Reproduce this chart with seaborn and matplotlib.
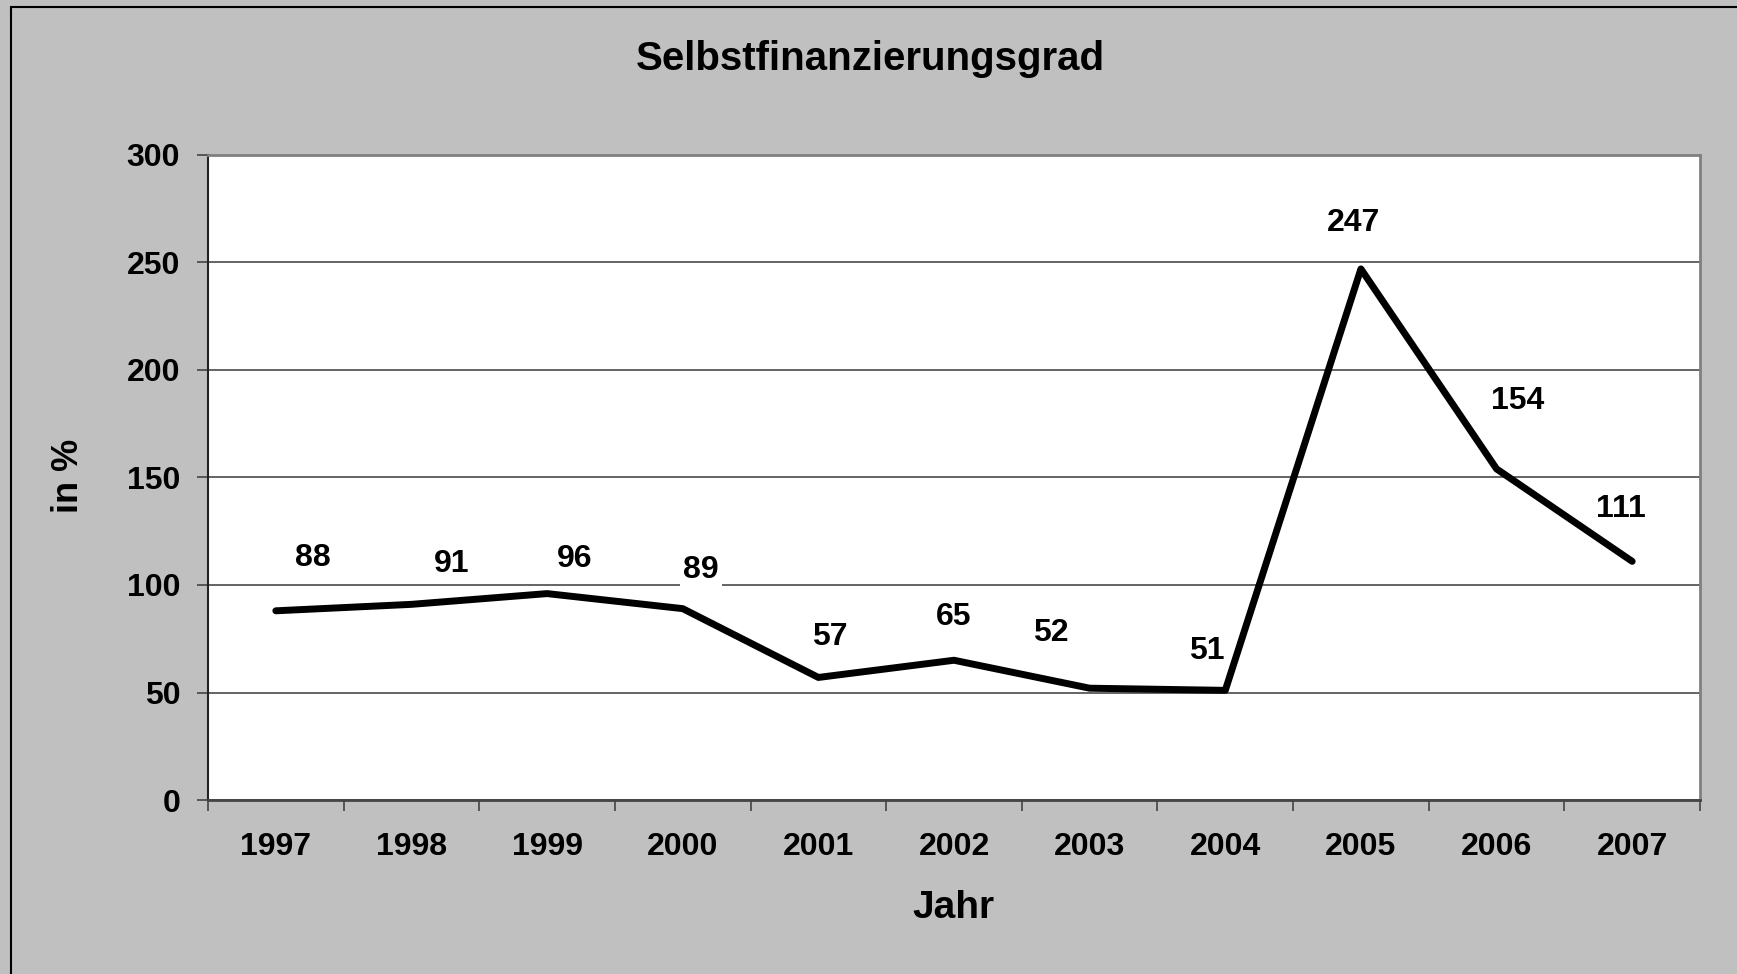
import matplotlib
matplotlib.use("Agg")
import matplotlib.pyplot as plt
import seaborn as sns
import pandas as pd
from matplotlib.patches import Rectangle
from matplotlib.ticker import FixedLocator, MultipleLocator

years = ["1997", "1998", "1999", "2000", "2001", "2002", "2003", "2004", "2005", "2006", "2007"]
values = [88, 91, 96, 89, 57, 65, 52, 51, 247, 154, 111]
label_offsets = [(27, 38), (29, 29), (20, 25), (13, 28), (8, 29), (0, 31),
                 (-28, 40), (-13, 28), (-5, 33), (15, 49), (-8, 38)]

df = pd.DataFrame({"Jahr": years, "Wert": values})

sns.set_theme(style="white")
plt.rcParams['font.family'] = ['Liberation Sans', 'DejaVu Sans']
plt.rcParams['font.weight'] = 'bold'
plt.rcParams['text.color'] = 'black'
plt.rcParams['xtick.color'] = 'black'
plt.rcParams['ytick.color'] = 'black'
plt.rcParams['axes.labelcolor'] = 'black'

fig = plt.figure(figsize=(17.37, 9.74), dpi=100)
fig.patch.set_facecolor("#C0C0C0")
fig.patches.append(Rectangle((11/1737, -0.1), 1.2, 1 - 7/974 + 0.1, transform=fig.transFigure,
                             fill=False, edgecolor="black", linewidth=1.5, zorder=0))

ax = fig.add_axes([208/1737, 1 - 800/974, 1492/1737, 645/974])
ax.set_facecolor("white")

sns.lineplot(data=df, x="Jahr", y="Wert", ax=ax, color="black", linewidth=5,
             solid_joinstyle="round", solid_capstyle="round", zorder=3)

ax.set_xlim(-0.5, len(years) - 0.5)
ax.set_ylim(0, 300)
ax.yaxis.set_major_locator(MultipleLocator(50))
ax.grid(axis="y", color="#4a4a4a", linewidth=1.2)
ax.set_axisbelow(True)

ax.set_xticks(range(len(years)))
ax.set_xticklabels(years)
ax.xaxis.set_minor_locator(FixedLocator([i - 0.5 for i in range(len(years) + 1)]))
ax.tick_params(axis="x", which="major", length=0, pad=23, labelsize=23, labelcolor="black")
ax.tick_params(axis="x", which="minor", length=8, width=1.2, color="#444444", bottom=True)
ax.tick_params(axis="y", which="major", length=8, width=1.2, color="#444444", left=True,
               pad=12, labelsize=23, labelcolor="black")
for lab in ax.get_xticklabels() + ax.get_yticklabels():
    lab.set_fontweight("bold")

for s in ["top", "right"]:
    ax.spines[s].set_color("#808080")
    ax.spines[s].set_linewidth(2)
ax.spines["left"].set_color("#222222")
ax.spines["left"].set_linewidth(1.5)
ax.spines["bottom"].set_color("#444444")
ax.spines["bottom"].set_linewidth(2)

for i, (v, off) in enumerate(zip(values, label_offsets)):
    ax.annotate(str(v), xy=(i, v), xytext=off, textcoords="offset points",
                ha="center", va="center", fontsize=23, fontweight="bold", color="black",
                bbox=dict(boxstyle="square,pad=0.1", facecolor="white", edgecolor="none"),
                zorder=4)

ax.set_xlabel("")
ax.set_ylabel("")
fig.text(0.5013, 0.939, "Selbstfinanzierungsgrad", ha="center", va="center",
         fontsize=29, fontweight="bold", color="black")
fig.text(0.549, 0.068, "Jahr", ha="center", va="center", fontsize=28, fontweight="bold",
         color="black")
fig.text(69/1737, 1 - 476/974, "in %", ha="center", va="center", rotation=90,
         fontsize=26, fontweight="bold", color="black")

fig.savefig("out.png", dpi=100, facecolor=fig.get_facecolor())
